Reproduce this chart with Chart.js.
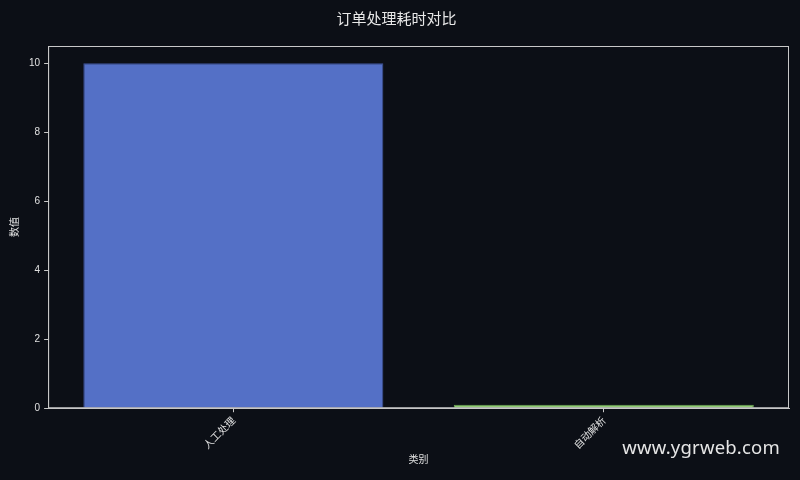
<!DOCTYPE html>
<html><head><meta charset="utf-8">
<script src="https://cdn.jsdelivr.net/npm/chart.js@4/dist/chart.umd.min.js"></script>
<style>
html,body{margin:0;padding:0;background:#0c0f16;}
#wrap{position:relative;width:800px;height:480px;}
#wm{position:absolute;right:20px;bottom:21px;color:#e6e6e6;font:18.5px "Noto Sans","DejaVu Sans",sans-serif;letter-spacing:0.2px;}
</style></head>
<body><div id="wrap"><canvas id="c" width="800" height="480"></canvas><div id="wm">www.ygrweb.com</div></div>
<script>
const categories = ["人工处理", "自动解析"];
const values = [10, 0.1];
const barColors = ["#5470c6", "#91cc75"];
const borderColors = ["#3d5299", "#6fa856"];
const yTicks = [0, 2, 4, 6, 8, 10];
const titleText = "订单处理耗时对比";
const xTitle = "类别";
const yTitle = "数值";

const fontFam = '"Liberation Sans","Noto Sans CJK SC",sans-serif';
const frame = {
  id: 'frame',
  afterDatasetsDraw(chart){
    const {ctx, chartArea:a} = chart;
    ctx.save();
    ctx.strokeStyle = '#c8c8c8';
    ctx.lineWidth = 1;
    ctx.strokeRect(a.left+0.5, a.top+0.5, a.right-a.left-1, a.bottom-a.top-1);
    ctx.restore();
  }
};
new Chart(document.getElementById('c'), {
  type: 'bar',
  data: {
    labels: categories,
    datasets: [{
      data: values,
      backgroundColor: barColors,
      borderColor: borderColors,
      borderWidth: 1,
      barPercentage: 0.81,
      categoryPercentage: 1.0
    }]
  },
  options: {
    responsive: false,
    animation: false,
    devicePixelRatio: 1,
    layout: { padding: { left: 4, right: 11, top: 8, bottom: 15 } },
    plugins: {
      legend: { display: false },
      tooltip: { enabled: false },
      title: {
        display: true, text: titleText, color: '#e8e8e8',
        font: { size: 15, family: '"Noto Sans CJK SC",sans-serif', weight: 'normal' },
        padding: { top: 1, bottom: 19 }
      }
    },
    scales: {
      x: {
        offset: true,
        grid: { display: true, offset: false, drawOnChartArea: false, color: '#c8c8c8', tickLength: 4, tickColor: '#c8c8c8' },
        border: { color: '#c8c8c8' },
        ticks: { color: '#e0e0e0', minRotation: 45, maxRotation: 45, font: { size: 10, family: '"Noto Sans CJK SC",sans-serif' }, padding: 2 },
        title: { display: true, text: xTitle, color: '#e0e0e0', font: { size: 10, family: '"Noto Sans CJK SC",sans-serif' }, padding: { top: 0, bottom: 0 } }
      },
      y: {
        min: 0, max: 10.5,
        afterBuildTicks(s){ s.ticks = yTicks.map(v => ({ value: v })); },
        grid: { display: true, drawOnChartArea: false, color: '#c8c8c8', tickLength: 4, tickColor: '#c8c8c8' },
        border: { color: '#c8c8c8' },
        ticks: { color: '#e0e0e0', font: { size: 10, family: fontFam }, padding: 4 },
        title: { display: true, text: yTitle, color: '#e0e0e0', font: { size: 10, family: '"Noto Sans CJK SC",sans-serif' }, padding: { top: 4, bottom: 5 } }
      }
    }
  },
  plugins: [frame]
});
</script></body></html>
